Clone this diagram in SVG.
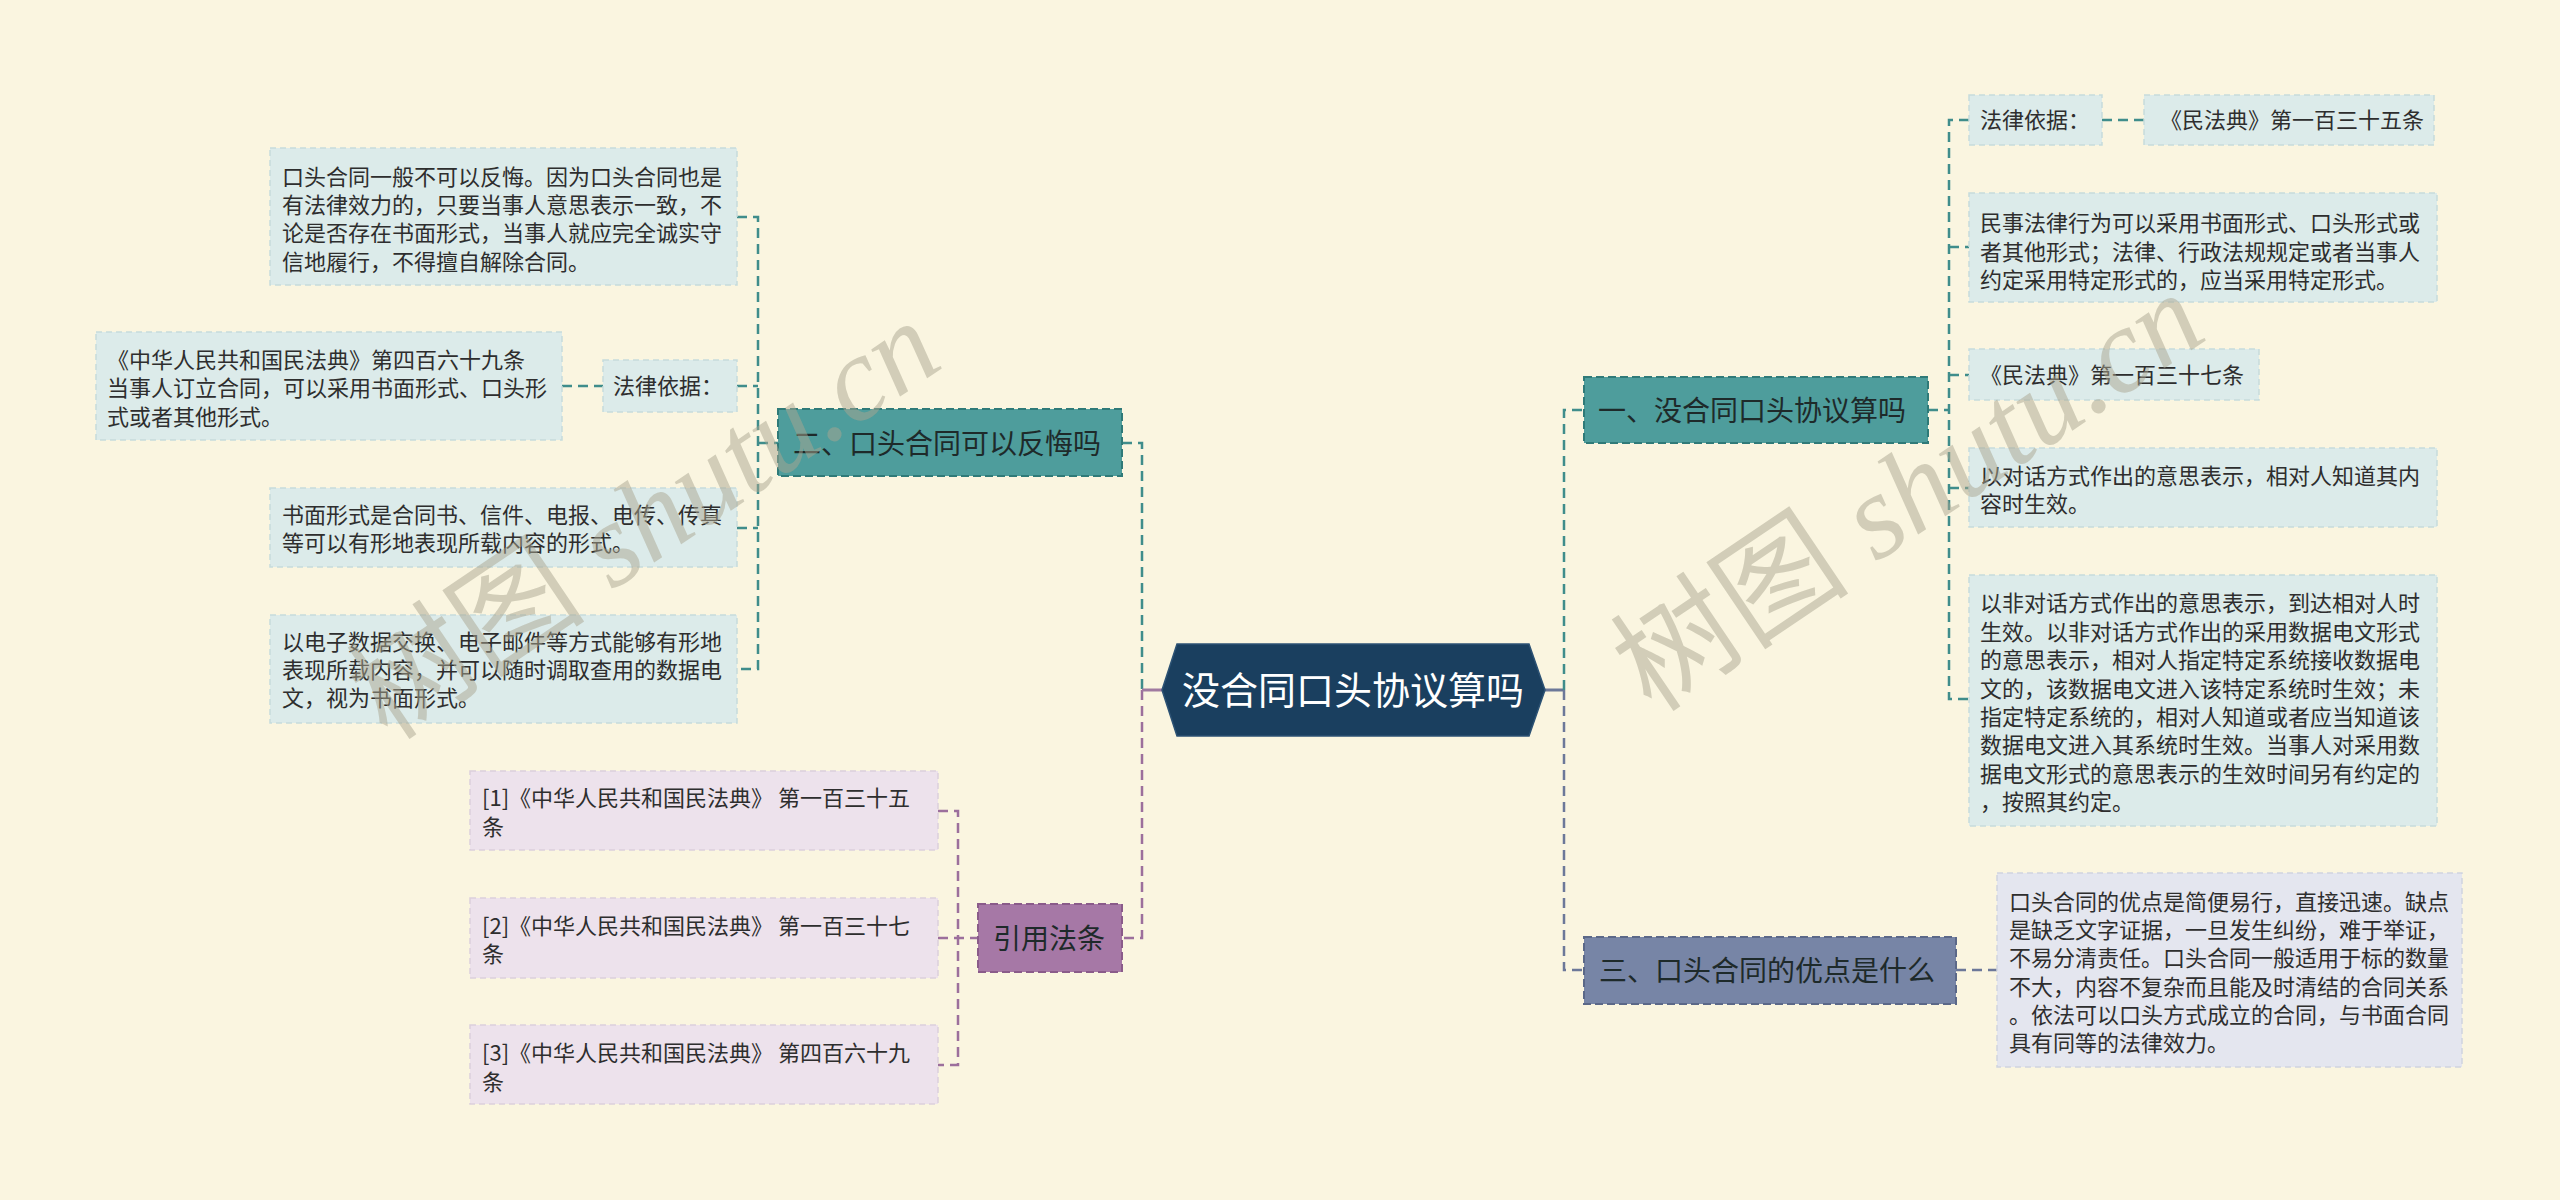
<svg xmlns="http://www.w3.org/2000/svg" width="2560" height="1200" viewBox="0 0 2560 1200">
<style>
.bg{fill:#faf5e0}
.t{font-family:"Noto Sans CJK SC","Noto Sans",sans-serif;font-size:22px;fill:#2e2e2e}
.m{font-family:"Noto Sans CJK SC","Noto Sans",sans-serif;font-size:28px;fill:#1e2a2a}
.leafT{fill:#dcebea;stroke:#c6dcdb;stroke-width:1.5;stroke-dasharray:6 4}
.leafP{fill:#ede2ec;stroke:#dccfdb;stroke-width:1.5;stroke-dasharray:6 4}
.leafS{fill:#e4e6ef;stroke:#d0d4e0;stroke-width:1.5;stroke-dasharray:6 4}
.mainT{fill:#4e9d9c;stroke:#2f7a78;stroke-width:2;stroke-dasharray:8 4}
.mainP{fill:#a678a6;stroke:#8a5b8a;stroke-width:2;stroke-dasharray:8 4}
.mainS{fill:#7785a6;stroke:#5b6888;stroke-width:2;stroke-dasharray:8 4}
.c{fill:none;stroke-width:2.5;stroke-dasharray:10 6}
.cT{stroke:#3f8d8b}
.cP{stroke:#9c6f9c}
.cS{stroke:#6c7899}
.wm{font-family:"Liberation Serif","Noto Sans CJK SC",serif;font-size:120px;fill:#a9a690;fill-opacity:0.5}
</style>
<rect class="bg" x="0" y="0" width="2560" height="1200"/>

<g id="connectors">
  <path class="c cT" d="M737,217 H758 V669 H737"/>
  <path class="c cT" d="M737,386 H758"/>
  <path class="c cT" d="M737,528 H758"/>
  <path class="c cT" d="M758,443 H778"/>
  <path class="c cT" d="M562,386 H603"/>
  <path class="c cT" d="M1122,443 H1142 V690"/>
  <path class="c cP" d="M1142,690 V938 H1122"/>
  <path d="M1142,690 H1162" stroke="#a07aa0" stroke-width="3" fill="none"/>
  <path class="c cP" d="M938,811 H958 V1065 H938"/>
  <path class="c cP" d="M938,938 H978"/>
  <path d="M1545,690 H1564" stroke="#6c7899" stroke-width="3" fill="none"/>
  <path class="c cT" d="M1564,690 V410 H1584"/>
  <path class="c cS" d="M1564,690 V970 H1584"/>
  <path class="c cT" d="M1928,410 H1949"/>
  <path class="c cT" d="M1969,120 H1949 V699 H1969"/>
  <path class="c cT" d="M1949,247 H1969"/>
  <path class="c cT" d="M1949,375 H1969"/>
  <path class="c cT" d="M1949,488 H1969"/>
  <path class="c cT" d="M2102,120 H2144"/>
  <path class="c cS" d="M1956,970 H1997"/>
</g>

<g id="center">
  <polygon points="1162,690 1177,644 1529,644 1545,690 1529,736 1177,736" fill="#1a3f5f" stroke="#2c5274" stroke-width="1.5"/>
  <text x="1353" y="704" text-anchor="middle" font-family="'Noto Sans CJK SC','Noto Sans',sans-serif" font-size="38" fill="#ffffff">没合同口头协议算吗</text>
</g>

<g id="n2">
  <rect class="mainT" x="778" y="409" width="344" height="67"/>
  <text class="m" x="793" y="454">二、口头合同可以反悔吗</text>
</g>
<g id="n2a">
  <rect class="leafT" x="270" y="148" width="467" height="137"/>
  <text class="t" x="282" y="185">口头合同一般不可以反悔。因为口头合同也是</text>
  <text class="t" x="282" y="213">有法律效力的，只要当事人意思表示一致，不</text>
  <text class="t" x="282" y="241">论是否存在书面形式，当事人就应完全诚实守</text>
  <text class="t" x="282" y="270">信地履行，不得擅自解除合同。</text>
</g>
<g id="n2b">
  <rect class="leafT" x="603" y="360" width="134" height="52"/>
  <text class="t" x="613" y="394">法律依据：</text>
</g>
<g id="n2b1">
  <rect class="leafT" x="96" y="332" width="466" height="108"/>
  <text class="t" x="107" y="368">《中华人民共和国民法典》第四百六十九条</text>
  <text class="t" x="107" y="396">当事人订立合同，可以采用书面形式、口头形</text>
  <text class="t" x="107" y="425">式或者其他形式。</text>
</g>
<g id="n2c">
  <rect class="leafT" x="270" y="488" width="467" height="79"/>
  <text class="t" x="282" y="523">书面形式是合同书、信件、电报、电传、传真</text>
  <text class="t" x="282" y="551">等可以有形地表现所载内容的形式。</text>
</g>
<g id="n2d">
  <rect class="leafT" x="270" y="615" width="467" height="108"/>
  <text class="t" x="282" y="650">以电子数据交换、电子邮件等方式能够有形地</text>
  <text class="t" x="282" y="678">表现所载内容，并可以随时调取查用的数据电</text>
  <text class="t" x="282" y="706">文，视为书面形式。</text>
</g>

<g id="n4">
  <rect class="mainP" x="978" y="904" width="144" height="68"/>
  <text class="m" x="993" y="949">引用法条</text>
</g>
<g id="n4a">
  <rect class="leafP" x="470" y="771" width="468" height="79"/>
  <text class="t" x="482" y="806">[1]《中华人民共和国民法典》 第一百三十五</text>
  <text class="t" x="482" y="835">条</text>
</g>
<g id="n4b">
  <rect class="leafP" x="470" y="898" width="468" height="80"/>
  <text class="t" x="482" y="934">[2]《中华人民共和国民法典》 第一百三十七</text>
  <text class="t" x="482" y="962">条</text>
</g>
<g id="n4c">
  <rect class="leafP" x="470" y="1025" width="468" height="79"/>
  <text class="t" x="482" y="1061">[3]《中华人民共和国民法典》 第四百六十九</text>
  <text class="t" x="482" y="1090">条</text>
</g>

<g id="n1">
  <rect class="mainT" x="1584" y="377" width="344" height="66"/>
  <text class="m" x="1598" y="421">一、没合同口头协议算吗</text>
</g>
<g id="n1a">
  <rect class="leafT" x="1969" y="95" width="133" height="50"/>
  <text class="t" x="1980" y="128">法律依据：</text>
</g>
<g id="n1a1">
  <rect class="leafT" x="2144" y="95" width="290" height="50"/>
  <text class="t" x="2160" y="128">《民法典》第一百三十五条</text>
</g>
<g id="n1b">
  <rect class="leafT" x="1969" y="193" width="468" height="109"/>
  <text class="t" x="1980" y="231">民事法律行为可以采用书面形式、口头形式或</text>
  <text class="t" x="1980" y="260">者其他形式；法律、行政法规规定或者当事人</text>
  <text class="t" x="1980" y="288">约定采用特定形式的，应当采用特定形式。</text>
</g>
<g id="n1c">
  <rect class="leafT" x="1969" y="349" width="290" height="51"/>
  <text class="t" x="1980" y="383">《民法典》第一百三十七条</text>
</g>
<g id="n1d">
  <rect class="leafT" x="1969" y="448" width="468" height="79"/>
  <text class="t" x="1980" y="484">以对话方式作出的意思表示，相对人知道其内</text>
  <text class="t" x="1980" y="512">容时生效。</text>
</g>
<g id="n1e">
  <rect class="leafT" x="1969" y="575" width="468" height="251"/>
  <text class="t" x="1980" y="611">以非对话方式作出的意思表示，到达相对人时</text>
  <text class="t" x="1980" y="640">生效。以非对话方式作出的采用数据电文形式</text>
  <text class="t" x="1980" y="668">的意思表示，相对人指定特定系统接收数据电</text>
  <text class="t" x="1980" y="697">文的，该数据电文进入该特定系统时生效；未</text>
  <text class="t" x="1980" y="725">指定特定系统的，相对人知道或者应当知道该</text>
  <text class="t" x="1980" y="753">数据电文进入其系统时生效。当事人对采用数</text>
  <text class="t" x="1980" y="782">据电文形式的意思表示的生效时间另有约定的</text>
  <text class="t" x="1980" y="810">，按照其约定。</text>
</g>

<g id="n3">
  <rect class="mainS" x="1584" y="937" width="372" height="67"/>
  <text class="m" x="1599" y="981">三、口头合同的优点是什么</text>
</g>
<g id="n3a">
  <rect class="leafS" x="1997" y="873" width="465" height="194"/>
  <text class="t" x="2009" y="910">口头合同的优点是简便易行，直接迅速。缺点</text>
  <text class="t" x="2009" y="938">是缺乏文字证据，一旦发生纠纷，难于举证，</text>
  <text class="t" x="2009" y="966">不易分清责任。口头合同一般适用于标的数量</text>
  <text class="t" x="2009" y="995">不大，内容不复杂而且能及时清结的合同关系</text>
  <text class="t" x="2009" y="1023">。依法可以口头方式成立的合同，与书面合同</text>
  <text class="t" x="2009" y="1051">具有同等的法律效力。</text>
</g>

<g id="watermarks">
  <text class="wm" transform="translate(388,742) rotate(-34)">树图 <tspan font-style="italic">shutu.cn</tspan></text>
  <text class="wm" transform="translate(1652,714) rotate(-34)">树图 <tspan font-style="italic">shutu.cn</tspan></text>
</g>
</svg>
